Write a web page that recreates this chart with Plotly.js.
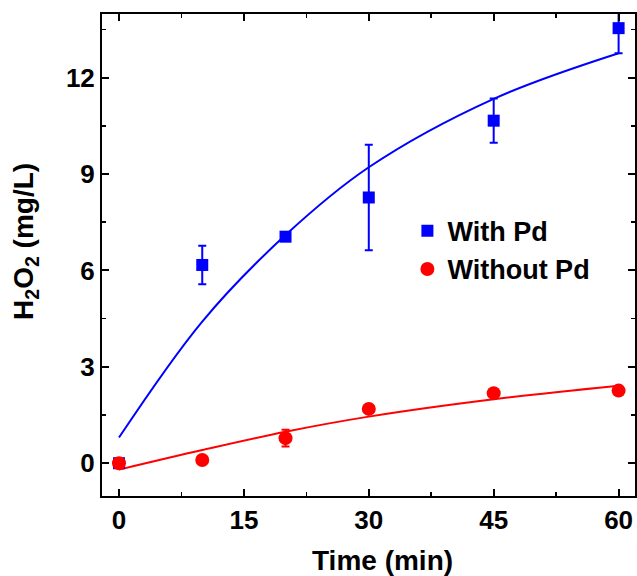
<!DOCTYPE html>
<html>
<head>
<meta charset="utf-8">
<script src="https://cdn.plot.ly/plotly-2.35.2.min.js"></script>
<style>html,body{margin:0;padding:0;background:#fff;}#chart{width:637px;height:576px;}</style>
</head>
<body>
<div id="chart"></div>
<script>
// Measured data
const timeMin = [0, 10, 20, 30, 45, 60];
const withPd = [0, 6.17, 7.05, 8.27, 10.66, 13.54];
const withPdErr = [0.05, 0.6, 0.12, 1.64, 0.69, 0.78];
const withoutPd = [0, 0.10, 0.78, 1.69, 2.18, 2.26];
const withoutPdErr = [0.05, 0.05, 0.26, 0.1, 0.1, 0.1];

// Fitted curves
const fitTime = [0, 10, 20, 30, 45, 60];
const fitWithPd = [0.80, 4.41, 7.1, 9.21, 11.34, 12.76];
const fitWithoutPd = [-0.20, 0.41, 0.98, 1.45, 1.99, 2.41];

const xTicks = [0, 15, 30, 45, 60];
const yTicks = [0, 3, 6, 9, 12];

const BLUE = '#0000FF', RED = '#FF0000';
const FONT = 'Arial, "Liberation Sans", sans-serif';

const traces = [
  {x: fitTime, y: fitWithPd, mode: 'lines', line: {color: BLUE, width: 2, shape: 'spline'}, showlegend: false, hoverinfo: 'skip'},
  {x: fitTime, y: fitWithoutPd, mode: 'lines', line: {color: RED, width: 2, shape: 'spline'}, showlegend: false, hoverinfo: 'skip'},
  {x: timeMin, y: withPd, name: 'With Pd', mode: 'markers', marker: {symbol: 'square', size: 12, color: BLUE},
   error_y: {type: 'data', array: withPdErr, visible: true, color: BLUE, thickness: 2, width: 4}},
  {x: timeMin, y: withoutPd, name: 'Without Pd', mode: 'markers', marker: {symbol: 'circle', size: 14, color: RED},
   error_y: {type: 'data', array: withoutPdErr, visible: true, color: RED, thickness: 2, width: 4}}
];

const axisCommon = {
  showgrid: false, zeroline: false, showline: true, linecolor: '#000', linewidth: 2,
  mirror: 'ticks', ticks: 'inside', ticklen: 7, tickwidth: 2, tickcolor: '#000',
  tickfont: {family: FONT, size: 26, color: '#000', weight: 'bold'},
  minor: {ticks: 'inside', ticklen: 4, tickwidth: 1.5, tickcolor: '#000', showgrid: false}
};

const layout = {
  width: 637, height: 576,
  margin: {l: 102, r: 2, t: 14, b: 80},
  paper_bgcolor: '#fff', plot_bgcolor: '#fff',
  xaxis: Object.assign({}, axisCommon, {range: [-2.04, 61.97], tickvals: xTicks, ticktext: xTicks.map(String),
    minor: Object.assign({}, axisCommon.minor, {tickvals: [7.5, 22.5, 37.5, 52.5]})}),
  yaxis: Object.assign({}, axisCommon, {range: [-1.02, 13.98], tickvals: yTicks, ticktext: yTicks.map(String),
    minor: Object.assign({}, axisCommon.minor, {tickvals: [1.5, 4.5, 7.5, 10.5, 13.5]})}),
  showlegend: true,
  legend: {x: 0.573, y: 0.6, xanchor: 'left', yanchor: 'top', bgcolor: 'rgba(0,0,0,0)', borderwidth: 0,
    font: {family: FONT, size: 27, color: '#000', weight: 'bold'}, traceorder: 'normal'},
  annotations: [
    {text: '<b>Time (min)</b>', xref: 'paper', yref: 'paper', x: 0.527, y: -0.133, xanchor: 'center', yanchor: 'middle',
     showarrow: false, font: {family: FONT, size: 28, color: '#000'}},
    {text: '<b>H<sub>2</sub>O<sub>2</sub> (mg/L)</b>', xref: 'paper', yref: 'paper', x: -0.1445, y: 0.529, xanchor: 'center', yanchor: 'middle',
     textangle: -90, showarrow: false, font: {family: FONT, size: 28, color: '#000'}}
  ]
};

Plotly.newPlot('chart', traces, layout, {displayModeBar: false, staticPlot: true});
</script>
</body>
</html>
